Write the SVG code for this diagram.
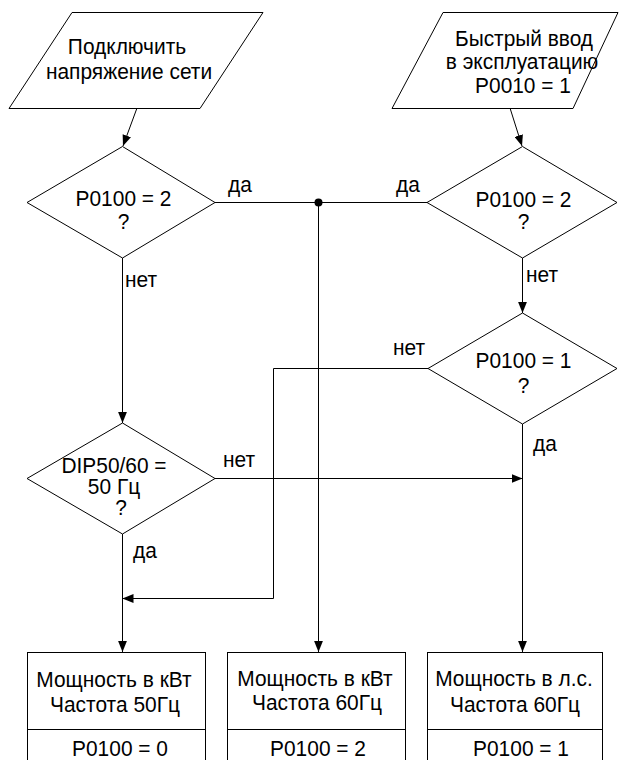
<svg xmlns="http://www.w3.org/2000/svg" width="621" height="760" viewBox="0 0 621 760">
<style>
.s{fill:#fff;stroke:#000;stroke-width:1}
.c{fill:none;stroke:#000;stroke-width:1}
text{font-family:"Liberation Sans",Arial,sans-serif;font-size:22.5px;fill:#000}
.m{text-anchor:middle}
.t{font-size:22px}
</style>
<defs>
<marker id="a" markerUnits="userSpaceOnUse" markerWidth="11" markerHeight="9" refX="10" refY="4" orient="auto" viewBox="0 0 10 8">
<path d="M0,0 L10,4 L0,8 z" fill="#000"/>
</marker>
</defs>
<rect width="621" height="760" fill="#fff"/>
<g id="connectors">
<path class="c" d="M137,108 L123,146" marker-end="url(#a)"/>
<path class="c" d="M510,108 L522,146" marker-end="url(#a)"/>
<path class="c" d="M215,202.5 H427"/>
<circle cx="318.5" cy="202.5" r="4" fill="#000"/>
<path class="c" d="M318.5,202.5 V652" marker-end="url(#a)"/>
<path class="c" d="M122.5,258 V423" marker-end="url(#a)"/>
<path class="c" d="M522.5,258 V313" marker-end="url(#a)"/>
<path class="c" d="M428,368.5 H273.5 V598.5 H122.5" marker-end="url(#a)"/>
<path class="c" d="M215,478.5 H522.5" marker-end="url(#a)"/>
<path class="c" d="M122.5,534 V652" marker-end="url(#a)"/>
<path class="c" d="M522.5,424 V652" marker-end="url(#a)"/>
<text transform="translate(228,192) scale(.93,1)">да</text>
<text transform="translate(396,192) scale(.93,1)">да</text>
<text transform="translate(125,287) scale(.93,1)">нет</text>
<text transform="translate(526,282) scale(.93,1)">нет</text>
<text transform="translate(393,355) scale(.93,1)">нет</text>
<text transform="translate(223,467) scale(.93,1)">нет</text>
<text transform="translate(133,558) scale(.93,1)">да</text>
<text transform="translate(533,451) scale(.93,1)">да</text>
</g>
<g id="n1">
<polygon class="s" points="72,12.5 263,12.5 200,108.5 9,108.5"/>
<text class="m" transform="translate(127,54) scale(.93,1)">Подключить</text>
<text class="m" transform="translate(129,79) scale(.93,1)">напряжение сети</text>
</g>
<g id="n2">
<polygon class="s" points="443,12.5 618,12.5 573,108.5 392,108.5"/>
<text class="m t" transform="translate(524,46) scale(.95,1)">Быстрый ввод</text>
<text class="m t" transform="translate(522,69) scale(.95,1)">в эксплуатацию</text>
<text class="m t" transform="translate(523,93) scale(.95,1)">P0010 = 1</text>
</g>
<g id="d1">
<polygon class="s" points="122.5,146.5 215,202.5 122.5,258 27,202.5"/>
<text class="m" transform="translate(123.5,206) scale(.93,1)">P0100 = 2</text>
<text class="m" transform="translate(123.5,229) scale(.93,1)">?</text>
</g>
<g id="d2">
<polygon class="s" points="522.5,146.5 617,202.5 522.5,258 427,202.5"/>
<text class="m" transform="translate(523.5,207) scale(.93,1)">P0100 = 2</text>
<text class="m" transform="translate(523.5,229) scale(.93,1)">?</text>
</g>
<g id="d4">
<polygon class="s" points="522.5,313 617,368.5 522.5,424 428,368.5"/>
<text class="m" transform="translate(523.5,368) scale(.93,1)">P0100 = 1</text>
<text class="m" transform="translate(523.5,393) scale(.93,1)">?</text>
</g>
<g id="d3">
<polygon class="s" points="122.5,423 215,478.5 122.5,534 27,478.5"/>
<text class="m t" transform="translate(114,473) scale(.95,1)">DIP50/60 =</text>
<text class="m t" transform="translate(114,494) scale(.95,1)">50 Гц</text>
<text class="m t" transform="translate(121,515) scale(.95,1)">?</text>
</g>
<g id="b1">
<rect class="s" x="27.5" y="652.5" width="178" height="120"/>
<line class="c" x1="27.5" y1="729.5" x2="205.5" y2="729.5"/>
<text class="m" transform="translate(114,687) scale(.93,1)">Мощность в кВт</text>
<text class="m" transform="translate(115,712) scale(.93,1)">Частота 50Гц</text>
<text class="m" transform="translate(120,756) scale(.93,1)">P0100 = 0</text>
</g>
<g id="b2">
<rect class="s" x="227.5" y="652.5" width="178" height="120"/>
<line class="c" x1="227.5" y1="729.5" x2="405.5" y2="729.5"/>
<text class="m" transform="translate(315,686) scale(.93,1)">Мощность в кВт</text>
<text class="m" transform="translate(317,710) scale(.93,1)">Частота 60Гц</text>
<text class="m" transform="translate(318,756) scale(.93,1)">P0100 = 2</text>
</g>
<g id="b3">
<rect class="s" x="427.5" y="652.5" width="175" height="120"/>
<line class="c" x1="427.5" y1="729.5" x2="602.5" y2="729.5"/>
<text class="m" transform="translate(514,686) scale(.93,1)">Мощность в л.с.</text>
<text class="m" transform="translate(515,712) scale(.93,1)">Частота 60Гц</text>
<text class="m" transform="translate(521,756) scale(.93,1)">P0100 = 1</text>
</g>
</svg>
